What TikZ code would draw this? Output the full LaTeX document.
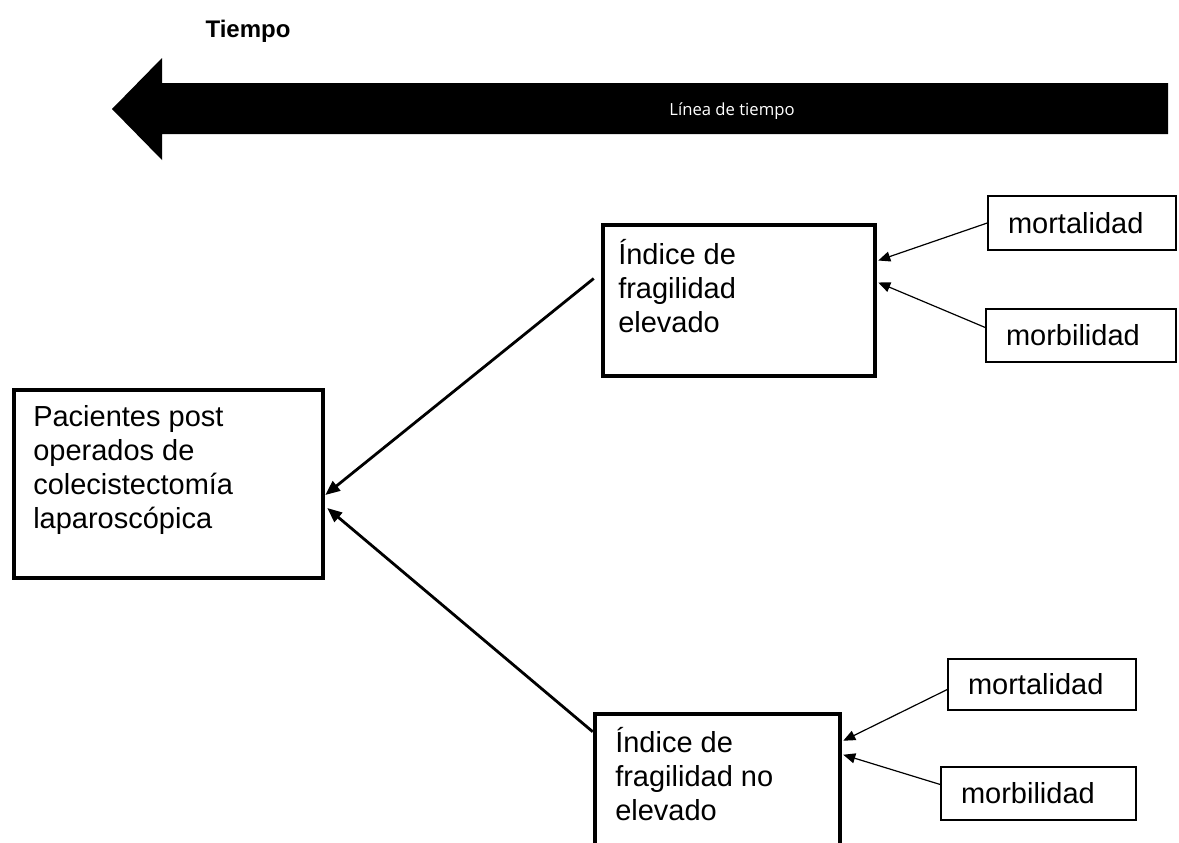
\documentclass[tikz,border=0pt]{standalone}
\usepackage{fontspec}
\setmainfont{Liberation Sans}
\newfontfamily\opensans{Open Sans}
\usetikzlibrary{arrows.meta,calc}
\newcommand\boxfont{\fontsize{21.75pt}{25.3pt}\selectfont}
\begin{document}
\begin{tikzpicture}[x=0.75pt,y=-0.75pt,
  bigbox/.style={draw, line width=3.4pt, inner sep=0pt},
  smallbox/.style={draw, line width=1.1pt, inner xsep=15pt, inner ysep=0pt, align=left, font=\boxfont},
  boxtext/.style={inner sep=0pt, align=left, anchor=base west, font=\boxfont},
  mainlink/.style={line width=2.1pt, -{Triangle[length=11pt,width=9pt]}},
  sublink/.style={line width=0.9pt, -{Triangle[length=9pt,width=7.5pt]}}]
\useasboundingbox (0,0) rectangle (1179,843);
\clip (0,0) rectangle (1179,843);

% time line arrow
\fill (1168,83) -- (162,83) -- (162,58) -- (112,109) -- (162,160) -- (162,134) -- (1168,134) -- cycle;
\node[text=white, font=\opensans\fontsize{12.5pt}{14pt}\selectfont] (timelabel) at (732,111) {Línea de tiempo};
\node[font=\bfseries\fontsize{18pt}{20pt}\selectfont] (title) at (248,31) {Tiempo};

% main boxes (text nodes anchored at the baseline of their last line)
\node[bigbox, minimum width=231.75pt, minimum height=141pt] (P) at (168.5,484) {};
\node[boxtext] (Ptext) at (33,528) {Pacientes post\\operados de\\colecistectomía\\laparoscópica};
\node[bigbox, minimum width=204pt, minimum height=113.25pt] (A) at (739,300.5) {};
\node[boxtext] (Atext) at (618,332) {Índice de\\fragilidad\\elevado};
\node[bigbox, minimum width=183.75pt, minimum height=117pt] (B) at (717.5,792) {};
\node[boxtext] (Btext) at (615,820) {Índice de\\fragilidad no\\elevado};

% small boxes
\node[smallbox, text width=111pt, minimum height=40.5pt] (m1) at (1082,223) {mortalidad};
\node[smallbox, text width=112.5pt, minimum height=39.75pt] (b1) at (1081,335.5) {morbilidad};
\node[smallbox, text width=111pt, minimum height=38.25pt] (m2) at (1042,684.5) {mortalidad};
\node[smallbox, text width=116.25pt, minimum height=39.75pt] (b2) at (1038.5,793.5) {morbilidad};

% connectors
\draw[mainlink] ([shift={(-7,-22)}]A.west) -- ([shift={(0,11)}]P.east);
\draw[mainlink] ([shift={(0,20)}]B.north west) -- ([shift={(2,24)}]P.east);
\draw[sublink] (m1.west) -- ([shift={(1,-40)}]A.east);
\draw[sublink] ([shift={(0,-8)}]b1.west) -- ([shift={(1,-18)}]A.east);
\draw[sublink] ([shift={(0,5)}]m2.west) -- ([shift={(1,29)}]B.north east);
\draw[sublink] ([shift={(0,-9)}]b2.west) -- ([shift={(1,43)}]B.north east);
\end{tikzpicture}
\end{document}
